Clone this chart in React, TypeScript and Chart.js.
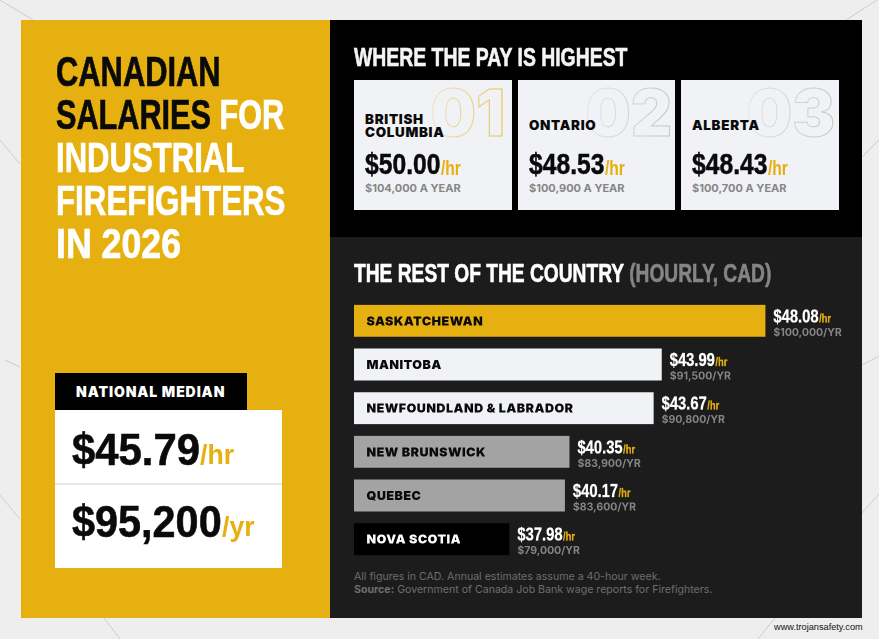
import { useEffect, useRef } from 'react'
import type { CSSProperties, ReactNode } from 'react'
import { Chart, registerables } from 'chart.js'

Chart.register(...registerables)

const topProvinces = [['BRITISH', 'COLUMBIA'], ['ONTARIO'], ['ALBERTA']]
const topRanks = ['01', '02', '03']
const topHourly = ['$50.00', '$48.53', '$48.43']
const topAnnual = ['$104,000 A YEAR', '$100,900 A YEAR', '$100,700 A YEAR']

const provinces = ['SASKATCHEWAN', 'MANITOBA', 'NEWFOUNDLAND & LABRADOR', 'NEW BRUNSWICK', 'QUEBEC', 'NOVA SCOTIA']
const hourly = [48.08, 43.99, 43.67, 40.35, 40.17, 37.98]
const annual = ['$100,000/YR', '$91,500/YR', '$90,800/YR', '$83,900/YR', '$83,600/YR', '$79,000/YR']

const YELLOW = '#e5b010'
const barColors = [YELLOW, '#f1f2f5', '#f1f2f5', '#a3a3a3', '#a3a3a3', '#000000']
const barTextColors = ['#0a0a0a', '#0a0a0a', '#0a0a0a', '#0a0a0a', '#0a0a0a', '#ffffff']

const NARROW = '"Liberation Sans"'
const WIDE = 'Inter'

function squeezed(ctx: CanvasRenderingContext2D, text: string, x: number, y: number, sx: number) {
  ctx.save()
  ctx.translate(x, y)
  ctx.scale(sx, 1)
  ctx.fillText(text, 0, 0)
  ctx.strokeStyle = ctx.fillStyle
  ctx.lineWidth = 0.3
  ctx.strokeText(text, 0, 0)
  const w = ctx.measureText(text).width * sx
  ctx.restore()
  return w
}

const barLabels = {
  id: 'barLabels',
  afterDatasetsDraw(chart: Chart) {
    const ctx = chart.ctx
    const bars = chart.getDatasetMeta(0).data
    ctx.save()
    ctx.textBaseline = 'alphabetic'
    bars.forEach((bar: any, i: number) => {
      const left = chart.scales.x.left
      // name inside the bar
      ctx.font = `900 12.5px ${WIDE}`
      ;(ctx as any).letterSpacing = '0.5px'
      ctx.fillStyle = barTextColors[i]
      ctx.fillText(provinces[i], left + 12.5, bar.y + 4.5)

      // hourly + annual to the right of the bar
      const x = bar.x + 8
      const price = '$' + hourly[i].toFixed(2)
      ;(ctx as any).letterSpacing = '0px'
      ctx.font = `700 18px ${NARROW}`
      ctx.fillStyle = '#ffffff'
      const w = squeezed(ctx, price, x, bar.y + 1.5, 0.82)
      ctx.font = `700 12px ${NARROW}`
      ctx.fillStyle = YELLOW
      squeezed(ctx, '/hr', x + w + 0.5, bar.y + 1.5, 0.78)
      ctx.font = `700 10.5px ${WIDE}`
      ctx.fillStyle = '#858585'
      ctx.fillText(annual[i], x, bar.y + 15)
    })
    ctx.restore()
  },
}

function BarChart() {
  const canvasRef = useRef<HTMLCanvasElement>(null)

  useEffect(() => {
    if (!canvasRef.current) return
    const chart = new Chart(canvasRef.current, {
      type: 'bar',
      data: {
        labels: provinces,
        datasets: [{
          data: hourly,
          backgroundColor: barColors,
          barPercentage: 0.73,
          categoryPercentage: 1,
        }],
      },
      options: {
        indexAxis: 'y',
        animation: false,
        responsive: false,
        devicePixelRatio: 2,
        layout: { padding: 0 },
        plugins: { legend: { display: false }, tooltip: { enabled: false } },
        scales: {
          x: { display: false, min: 31.85, max: 52.56 },
          y: { display: false },
        },
      },
      plugins: [barLabels],
    })
    return () => chart.destroy()
  }, [])

  return <canvas ref={canvasRef} width={525} height={262} style={{ position: 'absolute', left: 354, top: 299, width: 525, height: 262 }} />
}

// text placed by its baseline; sx squeezes condensed headings
function T({ x, y, size, font = WIDE, weight = 700, color = '#000', sx = 1, ls = 0, style, children }: {
  x: number; y: number; size: number; font?: string; weight?: number; color?: string; sx?: number; ls?: number; style?: CSSProperties; children: ReactNode
}) {
  const k = font === WIDE ? 0.864 : 0.8465
  return (
    <div style={{
      position: 'absolute', left: x, top: y - k * size, fontFamily: font, fontSize: size, fontWeight: weight,
      lineHeight: 1, color, whiteSpace: 'pre', letterSpacing: ls, transform: sx === 1 ? undefined : `scaleX(${sx})`, transformOrigin: 'left top', ...style,
    }}>{children}</div>
  )
}

function Box({ x, y, w, h, color, style }: { x: number; y: number; w: number; h: number; color: string; style?: CSSProperties }) {
  return <div style={{ position: 'absolute', left: x, top: y, width: w, height: h, background: color, ...style }} />
}

const cardX = [354, 518, 681]
const cardW = [158, 157, 158]
const rankRight = [505, 672, 835]
const rankColor = [YELLOW, '#b5b5b5', '#b5b5b5']

function Card({ i }: { i: number }) {
  const x = cardX[i]
  const lines = topProvinces[i]
  return (
    <>
      <Box x={x} y={80} w={cardW[i]} h={130} color="#f1f2f5" />
      <div style={{
        position: 'absolute', right: 879 - rankRight[i], top: 81, fontFamily: WIDE, fontWeight: 900, fontSize: 64, lineHeight: '64px',
        color: 'transparent', WebkitTextStroke: `1px ${rankColor[i]}`, letterSpacing: 0,
        WebkitMaskImage: 'linear-gradient(to right, rgba(0,0,0,.2), rgba(0,0,0,.75))',
      }}>{topRanks[i]}</div>
      {lines.map((l, j) => (
        <T key={l} x={x + 11} y={(lines.length === 2 ? 125 : 131) + j * 13} size={13.4} weight={900} color="#0a0a0a" ls={0.7} style={{ lineHeight: '13.4px' }}>{l}</T>
      ))}
      <T x={x + 11} y={175} size={29} font={NARROW} color="#0a0a0a" sx={0.85} style={{ WebkitTextStroke: '0.5px #0a0a0a' }}>{topHourly[i]}</T>
      <T x={x + 87} y={175} size={20} font={NARROW} color={YELLOW} sx={0.78}>/hr</T>
      <T x={x + 11} y={193} size={11} color="#868686">{topAnnual[i]}</T>
    </>
  )
}

const decoLines = [
  [0, 0, 33, 20], [0, 140, 20, 164], [5, 360, 20, 367], [0, 495, 20, 519], [104, 618, 120, 639],
  [846, 20, 877, 0], [862, 157, 879, 140], [862, 365, 879, 356], [862, 513, 879, 494], [775, 618, 758, 639],
]

const titleLines = [
  [['CANADIAN', '#0a0a0a']],
  [['SALARIES ', '#0a0a0a'], ['FOR', '#ffffff']],
  [['INDUSTRIAL', '#ffffff']],
  [['FIREFIGHTERS', '#ffffff']],
  [['IN 2026', '#ffffff']],
]
const titleSqueeze = [0.735, 0.73, 0.74, 0.745, 0.85]

export default function App() {
  return (
    <div style={{ position: 'fixed', left: 0, top: 0, width: 879, height: 639, overflow: 'hidden', background: '#eeeeee' }}>
      <svg width={879} height={639} style={{ position: 'absolute', left: 0, top: 0 }}>
        {decoLines.map((l, i) => <line key={i} x1={l[0]} y1={l[1]} x2={l[2]} y2={l[3]} stroke="#c4c4c4" strokeWidth={0.8} />)}
      </svg>

      <Box x={21} y={20} w={309} h={598} color={YELLOW} />
      <Box x={330} y={20} w={532} h={217} color="#000000" />
      <Box x={330} y={237} w={532} h={381} color="#1c1c1c" />

      {titleLines.map((parts, i) => (
        <T key={i} x={56} y={87 + i * 43} size={42} font={NARROW} sx={titleSqueeze[i]}>
          {parts.map((p) => <span key={p[0]} style={{ color: p[1], WebkitTextStroke: `0.7px ${p[1]}` }}>{p[0]}</span>)}
        </T>
      ))}

      <Box x={55} y={373} w={192} h={37} color="#000000" />
      <T x={76} y={397} size={14} weight={900} color="#ffffff" ls={0.9}>NATIONAL MEDIAN</T>
      <Box x={55} y={410} w={227} h={158} color="#ffffff" />
      <Box x={55} y={483} w={227} h={1.5} color="#e8e8e8" />
      <T x={72} y={465} size={45} font={NARROW} color="#0a0a0a" sx={0.93} style={{ WebkitTextStroke: '0.6px #0a0a0a' }}>$45.79</T>
      <T x={200} y={465} size={28} font={NARROW} color={YELLOW} sx={0.95}>/hr</T>
      <T x={72} y={537} size={45} font={NARROW} color="#0a0a0a" sx={0.92} style={{ WebkitTextStroke: '0.6px #0a0a0a' }}>$95,200</T>
      <T x={222} y={537} size={28} font={NARROW} color={YELLOW} sx={0.95}>/yr</T>

      <T x={354} y={66.5} size={25.6} font={NARROW} color="#f4f4f4" sx={0.758} style={{ WebkitTextStroke: '0.6px #f4f4f4' }}>WHERE THE PAY IS HIGHEST</T>
      {topHourly.map((_, i) => <Card key={i} i={i} />)}

      <T x={354} y={283} size={25.6} font={NARROW} color="#ffffff" sx={0.75} style={{ WebkitTextStroke: '0.6px #ffffff' }}>
        THE REST OF THE COUNTRY <span style={{ color: '#858585', WebkitTextStroke: '0.6px #858585' }}>(HOURLY, CAD)</span>
      </T>

      <BarChart />

      <T x={354} y={581} size={10.6} weight={400} color="#6e6e6e">All figures in CAD. Annual estimates assume a 40-hour week.</T>
      <T x={354} y={594} size={10.6} weight={400} color="#6e6e6e"><b>Source:</b> Government of Canada Job Bank wage reports for Firefighters.</T>
      <T x={774} y={631} size={9.2} font={NARROW} weight={400} color="#111111">www.trojansafety.com</T>
    </div>
  )
}
